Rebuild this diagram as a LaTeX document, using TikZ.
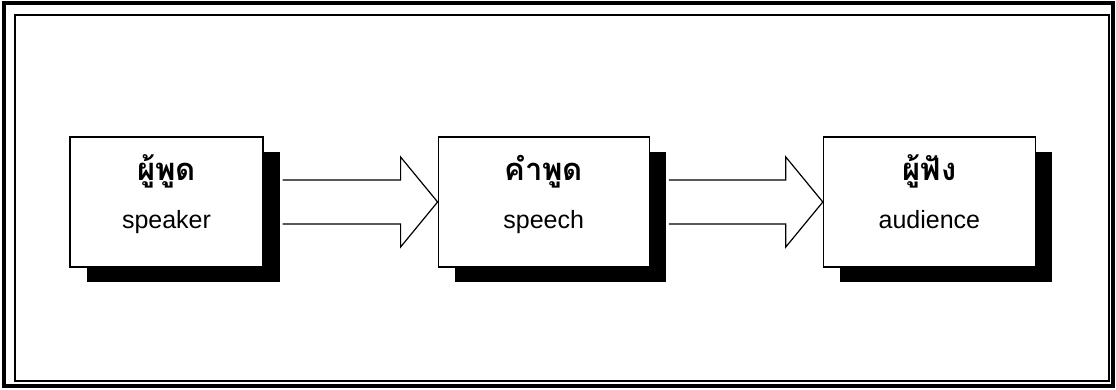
\documentclass[tikz,border=0pt]{standalone}
\usepackage{fontspec}
\setmainfont{Liberation Sans}
\newfontfamily\thaifont[Script=Thai]{Loma}
\usetikzlibrary{positioning, calc, shadows}

\begin{document}
\begin{tikzpicture}[
    x=1pt, y=1pt,
    party/.style={draw, line width=1.2pt, fill=white, minimum width=#1, minimum height=130pt,
        align=center, inner sep=0pt,
        drop shadow={shadow xshift=17pt, shadow yshift=-15pt, fill=black, opacity=1}},
    party/.default=193pt,
    thai/.style={anchor=base, font=\thaifont\bfseries\fontsize{31}{31}\selectfont},
    eng/.style={anchor=base, font=\fontsize{25}{25}\selectfont},
    blockarrow/.style={draw, line width=1.2pt, fill=white, line join=miter}
]
    \useasboundingbox (0,0) rectangle (1116,390);
    % double frame
    \draw[line width=4pt] (3.5,3.5) rectangle (1113,386.5);
    \draw[line width=1.3pt] (15,9) rectangle (1109,375);

    \node[party] (speaker) at (166.5,188) {};
    \node[party=211pt, right=174pt of speaker] (speech) {};
    \node[party=212pt, right=173pt of speech] (audience) {};

    % labels
    \foreach \who/\th/\en in {speaker/ผู้พูด/speaker, speech/คำพูด/speech, audience/ผู้ฟัง/audience}{
        \node[thai] (\who-th) at ($(\who.center)+(0,21)$) {\th};
        \node[eng] (\who-en) at ($(\who.center)+(0,-27)$) {\en};
    }

    % block arrows
    \foreach \from/\to in {speaker/speech, speech/audience}{
        \draw[blockarrow] ($(\from.east)+(19,22)$) -- ($(\to.west)+(-37,22)$)
            -- ($(\to.west)+(-37,45)$) -- (\to.west) -- ($(\to.west)+(-37,-45)$)
            -- ($(\to.west)+(-37,-22)$) -- ($(\from.east)+(19,-22)$);
    }
\end{tikzpicture}
\end{document}
